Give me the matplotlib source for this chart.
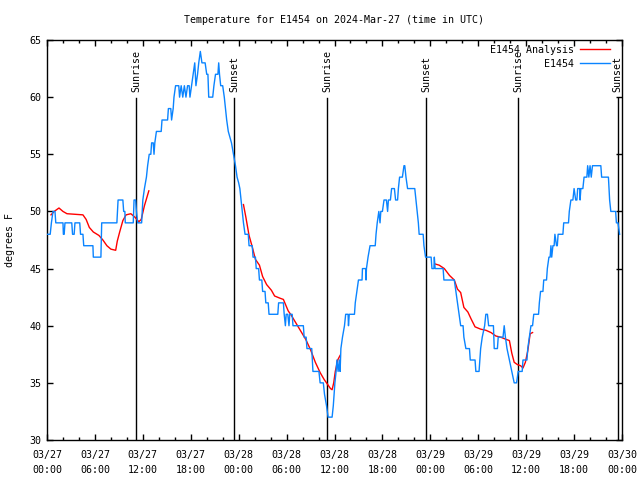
import numpy as np
import pandas as pd
import matplotlib
matplotlib.use("Agg")
import matplotlib.pyplot as plt
import matplotlib.dates as mdates

# ---------------- data ----------------
start_time = "2024-03-27 00:00"

# observed temperature (hours after start, degrees F)
obs_hours = [0.0, 0.4, 0.55, 0.75, 1.0, 1.1, 2.0, 2.05, 2.15, 2.25, 3.1, 3.2, 3.4, 3.5,
             4.1, 4.2, 4.5, 4.6, 5.75, 5.8, 6.75, 6.85, 8.75, 8.9, 9.5, 9.6, 9.75, 9.8,
             10.8, 10.9, 11.1, 11.2, 11.35, 11.85, 12.0, 12.2, 12.45, 12.6, 12.8, 13.0,
             13.1, 13.3, 13.4, 13.5, 13.7, 14.3, 14.4, 15.1, 15.2, 15.5, 15.6, 15.8, 15.9,
             16.1, 16.5, 16.6, 16.8, 17.0, 17.2, 17.4, 17.6, 17.8, 17.9, 18.1, 18.3, 18.5,
             18.65, 18.85, 19.0, 19.2, 19.4, 19.8, 20.0, 20.15, 20.25, 20.75, 20.9, 21.1,
             21.4, 21.5, 21.6, 21.75, 22.0, 22.2, 22.35, 22.5, 22.7, 22.9, 23.1, 23.35,
             23.6, 23.8, 24.0, 24.15, 24.3, 24.45, 24.6, 24.8, 25.2, 25.3, 25.7, 25.8,
             26.1, 26.2, 26.5, 26.6, 26.9, 27.0, 27.3, 27.4, 27.7, 27.8, 28.9, 29.0, 29.6,
             29.7, 29.85, 29.95, 30.15, 30.3, 30.4, 30.7, 30.8, 32.1, 32.2, 32.45, 32.55,
             33.15, 33.3, 34.05, 34.2, 34.6, 34.75, 35.0, 35.2, 35.7, 35.85, 36.05, 36.2,
             36.3, 36.45, 36.6, 36.7, 36.8, 37.0, 37.25, 37.4, 37.7, 37.75, 37.85, 38.5,
             38.6, 38.8, 39.0, 39.45, 39.5, 39.9, 39.95, 40.0, 40.2, 40.45, 41.1, 41.2,
             41.35, 41.55, 41.7, 41.8, 42.0, 42.2, 42.5, 42.65, 42.75, 43.0, 43.15, 43.5,
             43.65, 43.9, 44.0, 44.15, 44.5, 44.7, 44.8, 44.95, 45.15, 46.05, 46.2, 46.35,
             46.5, 46.6, 47.1, 47.2, 47.4, 48.1, 48.2, 48.45, 48.5, 48.6, 49.6, 49.7, 51.0,
             51.2, 51.4, 51.6, 51.8, 52.1, 52.2, 52.45, 52.9, 53.0, 53.6, 53.7, 54.1, 54.3,
             54.5, 54.8, 54.95, 55.15, 55.3, 55.9, 56.0, 56.4, 56.5, 57.1, 57.25, 57.4,
             57.6, 57.9, 58.2, 58.5, 58.8, 59.0, 59.5, 59.6, 60.1, 60.2, 60.4, 60.6, 60.8,
             60.95, 61.55, 61.65, 61.8, 62.1, 62.2, 62.55, 62.65, 62.85, 63.0, 63.1, 63.2,
             63.35, 63.5, 63.6, 63.8, 63.9, 64.0, 64.6, 64.7, 65.3, 65.4, 65.6, 65.85,
             66.0, 66.2, 66.35, 66.45, 66.7, 66.75, 66.85, 67.1, 67.25, 67.6, 67.7, 67.85,
             68.0, 68.15, 68.3, 69.35, 69.45, 70.3, 70.45, 70.6, 71.2, 71.3, 71.5, 71.7]
obs_temp = [48, 48, 49, 50, 50, 49, 49, 48, 48, 49, 49, 48, 48, 49,
            49, 48, 48, 47, 47, 46, 46, 49, 49, 51, 51, 50, 50, 49,
            49, 51, 51, 50, 49, 49, 51, 52, 53, 54, 55, 55,
            56, 56, 55, 56, 57, 57, 58, 58, 59, 59, 58, 59, 60,
            61, 61, 60, 61, 60, 61, 60, 61, 61, 60, 61, 62, 63,
            61, 62, 63, 64, 63, 63, 62, 62, 60, 60, 61, 62,
            62, 63, 62, 61, 61, 60, 59, 58, 57, 56.5, 56, 55,
            54, 53, 52.5, 52, 51, 50, 49, 48, 48, 47, 47, 46,
            46, 45, 45, 44, 44, 43, 43, 42, 42, 41, 41, 42, 42,
            41, 40, 41, 41, 40, 41, 41, 40, 40, 39, 39, 38,
            38, 36, 36, 35, 35, 34, 33, 32, 32, 33, 35, 36,
            37, 36, 37, 36, 38, 39, 40, 41, 41, 40, 41, 41,
            42, 43, 44, 44, 45, 45, 44, 45, 46, 47, 47, 48,
            49, 50, 49, 50, 50, 51, 51, 50, 51, 51, 52, 52,
            51, 51, 52, 53, 53, 54, 54, 53, 52, 52, 51, 50,
            49, 48, 48, 47, 46, 46, 45, 45, 46, 45, 45, 44, 44,
            43, 42, 41, 40, 40, 39, 38, 38, 37, 37, 36, 36, 38,
            39, 40, 41, 41, 40, 40, 38, 38, 39, 39, 40, 39,
            38, 37, 36, 35, 35, 36, 36, 37, 37, 38, 39, 40, 40,
            41, 41, 42, 43, 43, 44, 44, 45, 46, 46, 47, 46,
            47, 47, 48, 47, 47, 48, 48, 49, 49, 50, 51, 51,
            52, 51, 51, 52, 52, 51, 52, 52, 53, 53, 54, 53,
            54, 53, 54, 54, 53, 53, 51, 50, 50, 49, 49, 48]

# analysis (NaN separates the three analysis runs)
ana_hours = [0.5, 0.9, 1.5, 2.0, 2.5, 4.5, 4.9, 5.3, 5.8, 6.5, 7.0, 7.5, 8.0, 8.6, 8.8,
             9.1, 9.5, 9.9, 10.5, 11.0, 11.5, 11.8, 12.2, 12.75,
             np.nan,
             24.6, 24.9, 25.3, 25.7, 26.1, 26.6, 27.0, 27.5, 28.1, 28.5, 29.2, 29.6, 30.2,
             30.6, 31.2, 31.8, 32.4, 33.0, 33.6, 34.2, 34.7, 35.2, 35.5, 35.7, 35.9, 36.1,
             36.4, 36.7,
             np.nan,
             48.6, 49.1, 49.75, 50.4, 51.0, 51.4, 51.8, 52.2, 52.7, 53.1, 53.6, 54.3, 54.96,
             55.6, 56.2, 56.8, 57.5, 57.9, 58.2, 58.5, 58.9, 59.3, 59.6, 59.9, 60.2, 60.5,
             60.8]
ana_temp = [49.7, 50.0, 50.3, 50.0, 49.8, 49.7, 49.3, 48.6, 48.2, 47.9, 47.5, 47.0, 46.7,
            46.6, 47.4, 48.2, 49.2, 49.7, 49.8, 49.5, 49.1, 49.3, 50.5, 51.8,
            np.nan,
            50.6, 49.5, 47.9, 46.9, 45.8, 45.3, 44.3, 43.6, 43.1, 42.6, 42.4, 42.3, 41.3,
            40.9, 40.2, 39.5, 38.8, 37.9, 36.8, 35.9, 35.3, 34.8, 34.5, 34.4, 35.0, 36.0,
            37.0, 37.4,
            np.nan,
            45.4, 45.3, 45.0, 44.4, 44.0, 43.2, 42.9, 41.6, 41.2, 40.6, 39.9, 39.7, 39.6,
            39.4, 39.1, 39.0, 38.8, 38.7, 37.6, 36.8, 36.6, 36.5, 36.3, 36.8, 37.8, 39.3,
            39.4]

sun_labels = ["Sunrise", "Sunset", "Sunrise", "Sunset", "Sunrise", "Sunset"]
sun_times = ["2024-03-27 11:08", "2024-03-27 23:25", "2024-03-28 11:04",
             "2024-03-28 23:27", "2024-03-29 11:01", "2024-03-29 23:28"]

title = "Temperature for E1454 on 2024-Mar-27 (time in UTC)"
ylabel = "degrees F"
yticks = [30, 35, 40, 45, 50, 55, 60, 65]
legend_labels = ["E1454 Analysis", "E1454"]

# ---------------- plot ----------------
FONT = "DejaVu Sans Mono"
FS = 7.2
plt.rcParams["font.family"] = [FONT]

t0 = pd.Timestamp(start_time)
obs_t = t0 + pd.to_timedelta(obs_hours, unit="h")
ana_t = [t0 + pd.Timedelta(hours=h) if not np.isnan(h) else pd.NaT for h in ana_hours]
ana_t = pd.DatetimeIndex(ana_t)

fig = plt.figure(figsize=(6.4, 4.8), dpi=100)
ax = fig.add_axes([47 / 640, 40 / 480, 575 / 640, 400 / 480])

for lab, tt in zip(sun_labels, sun_times):
    ts = pd.Timestamp(tt)
    ax.axvline(ts, ymin=0, ymax=0.855, color="black", lw=1.0, zorder=1)
    ax.text(ts, 0.87, lab, rotation=90, ha="center", va="bottom",
            transform=ax.get_xaxis_transform(), fontsize=FS, family=FONT)

l_ana, = ax.plot(ana_t, ana_temp, color="#ff0000", lw=1.0, zorder=2,
                 label=legend_labels[0])
l_obs, = ax.plot(obs_t, obs_temp, color="#0a84ff", lw=1.0, zorder=3,
                 label=legend_labels[1])

ax.set_xlim(t0, t0 + pd.Timedelta(hours=72))
ax.set_ylim(30, 65)
ax.set_yticks(yticks)
ax.xaxis.set_major_locator(mdates.HourLocator(byhour=[0, 6, 12, 18]))
ax.xaxis.set_minor_locator(mdates.HourLocator(byhour=range(0, 24, 2)))
ax.xaxis.set_major_formatter(mdates.DateFormatter("%m/%d\n%H:%M"))

ax.tick_params(axis="both", which="both", direction="in", top=True, right=True,
               labelsize=FS, width=1.0)
ax.tick_params(axis="both", which="major", length=4.5)
ax.tick_params(axis="x", which="minor", length=2.5)
ax.tick_params(axis="x", which="major", pad=7.5)
ax.tick_params(axis="y", which="major", pad=4)
for lab in ax.get_xticklabels() + ax.get_yticklabels():
    lab.set_family(FONT)
    lab.set_linespacing(1.55)
for sp in ax.spines.values():
    sp.set_linewidth(1.0)

fig.text(334 / 640, 1 - 20 / 480, title, ha="center", va="center",
         fontsize=FS, family=FONT)
fig.text(10 / 640, 1 - 240 / 480, ylabel, rotation=90, ha="center", va="center",
         fontsize=FS, family=FONT)

ax.legend(handles=[l_ana, l_obs], loc="upper right",
          bbox_to_anchor=((610 - 47) / 575, (440 - 45) / 400),
          frameon=False, markerfirst=False, fontsize=FS, handlelength=3.0,
          handletextpad=0.6, labelspacing=0.4, borderaxespad=0, borderpad=0,
          prop={"family": FONT, "size": FS})

fig.savefig("out.png", dpi=100)
